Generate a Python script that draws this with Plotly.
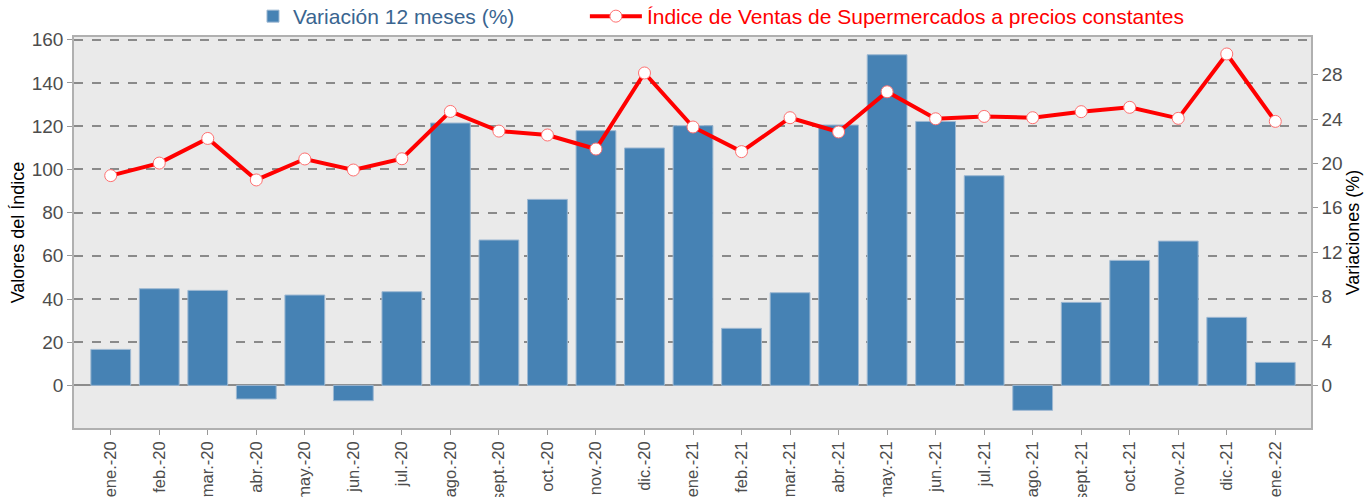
import plotly.graph_objects as go

categories = ["ene.-20", "feb.-20", "mar.-20", "abr.-20", "may.-20", "jun.-20", "jul.-20",
              "ago.-20", "sept.-20", "oct.-20", "nov.-20", "dic.-20", "ene.-21", "feb.-21",
              "mar.-21", "abr.-21", "may.-21", "jun.-21", "jul.-21", "ago.-21", "sept.-21",
              "oct.-21", "nov.-21", "dic.-21", "ene.-22"]

variacion_12m = [3.24, 8.71, 8.56, -1.23, 8.14, -1.38, 8.44, 23.64, 13.1, 16.76, 22.95, 21.39,
                 23.4, 5.14, 8.35, 23.46, 29.79, 23.78, 18.89, -2.25, 7.48, 11.26, 13.0, 6.13, 2.07]

indice = [97.1, 102.9, 114.3, 95.1, 104.8, 99.7, 104.9, 126.8, 117.7, 115.9, 109.4, 144.6,
          119.6, 108.2, 123.9, 117.3, 135.9, 123.4, 124.5, 123.9, 126.7, 128.7, 123.6, 153.4, 122.2]

left_ticks = [0, 20, 40, 60, 80, 100, 120, 140, 160]
right_ticks = [0, 4, 8, 12, 16, 20, 24, 28]

FONT = "Liberation Sans, Arial, sans-serif"
TICK_COLOR = "#4d4d4d"
AXIS_LINE = "#b0b0b0"

fig = go.Figure()

fig.add_trace(go.Bar(
    x=categories, y=variacion_12m,
    name="<span style='color:#3a6590'>Variación 12 meses (%)</span>",
    marker=dict(color="#4682B4", line=dict(color="#9db8d2", width=1)),
    width=0.82,
    yaxis="y",
    legend="legend",
))

fig.add_trace(go.Scatter(
    x=categories, y=indice,
    name="<span style='color:#ff0000'>Índice de Ventas de Supermercados a precios constantes</span>",
    mode="lines+markers",
    line=dict(color="#ff0000", width=4),
    marker=dict(color="white", size=12, line=dict(color="#ff7070", width=1)),
    yaxis="y2",
    legend="legend2",
))

fig.update_layout(
    width=1367, height=497,
    margin=dict(l=74, r=56, t=37, b=69, autoexpand=False),
    paper_bgcolor="white",
    plot_bgcolor="#eaeaea",
    font=dict(family=FONT, color=TICK_COLOR),
    bargap=0.18,
    showlegend=True,
    legend=dict(
        orientation="h", x=0.1447, xanchor="left", y=1.0, yanchor="bottom",
        font=dict(size=21, family=FONT),
        bgcolor="rgba(0,0,0,0)",
    ),
    legend2=dict(
        orientation="h", x=0.413, xanchor="left", y=1.0, yanchor="bottom",
        font=dict(size=21, family=FONT), itemwidth=52,
        bgcolor="rgba(0,0,0,0)",
    ),
    xaxis=dict(
        type="category", range=[-0.757, 24.736],
        tickangle=-90, tickfont=dict(size=16.5, color=TICK_COLOR),
        ticks="outside", ticklen=5, tickcolor="#999999",
        showline=True, linecolor=AXIS_LINE, linewidth=1.5, mirror=True,
        showgrid=False, automargin=False,
    ),
    yaxis=dict(
        side="right", range=[-3.84, 31.39],
        tickvals=right_ticks, ticktext=[str(v) for v in right_ticks],
        tickfont=dict(size=19, color=TICK_COLOR),
        ticks="outside", ticklen=5, tickcolor="#999999",
        showgrid=False, zeroline=True, zerolinecolor="#8c8c8c", zerolinewidth=2,
        showline=True, linecolor=AXIS_LINE, linewidth=1.5,
        title=dict(text="Variaciones (%)", font=dict(size=18, color="black"), standoff=4),
        automargin=False,
    ),
    yaxis2=dict(
        side="left", overlaying="y", range=[-19.7, 161.25],
        tickvals=left_ticks, ticktext=[str(v) for v in left_ticks],
        tickfont=dict(size=19, color=TICK_COLOR),
        ticks="outside", ticklen=5, tickcolor="#999999",
        showgrid=True, gridcolor="#8a8a8a", gridwidth=1.5, griddash="dash",
        zeroline=False,
        showline=True, linecolor=AXIS_LINE, linewidth=1.5,
        title=dict(text="Valores del Índice", font=dict(size=18, color="black"), standoff=2),
        automargin=False,
    ),
)

fig.write_html("out.html", config={"displayModeBar": False},
               post_script="document.body.style.margin='0';")
